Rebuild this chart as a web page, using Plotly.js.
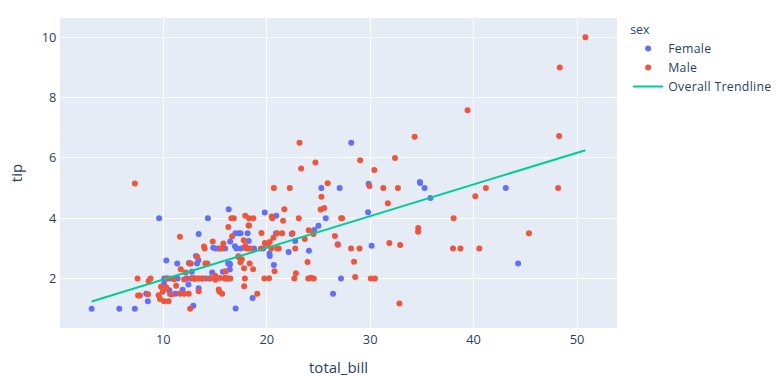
<!DOCTYPE html>
<html>
<head>
<meta charset="utf-8">
<script src="https://cdn.plot.ly/plotly-3.0.1.min.js"></script>
<style>html,body{margin:0;padding:0;background:#fff}#chart{width:776px;height:377px}
.legendtext{letter-spacing:0.3px}</style>
</head>
<body>
<div id="chart"></div>
<script>
const total_bill = [16.99,10.34,21.01,23.68,24.59,25.29,8.77,26.88,15.04,14.78,10.27,35.26,15.42,18.43,14.83,21.58,10.33,16.29,16.97,20.65,17.92,20.29,15.77,39.42,19.82,17.81,13.37,12.69,21.7,19.65,9.55,18.35,15.06,20.69,17.78,24.06,16.31,16.93,18.69,31.27,16.04,17.46,13.94,9.68,30.4,18.29,22.23,32.4,28.55,18.04,12.54,10.29,34.81,9.94,25.56,19.49,38.01,26.41,11.24,48.27,20.29,13.81,11.02,18.29,17.59,20.08,16.45,3.07,20.23,15.01,12.02,17.07,26.86,25.28,14.73,10.51,17.92,27.2,22.76,17.29,19.44,16.66,10.07,32.68,15.98,34.83,13.03,18.28,24.71,21.16,28.97,22.49,5.75,16.32,22.75,40.17,27.28,12.03,21.01,12.46,11.35,15.38,44.3,22.42,20.92,15.36,20.49,25.21,18.24,14.31,14.0,7.25,38.07,23.95,25.71,17.31,29.93,10.65,12.43,24.08,11.69,13.42,14.26,15.95,12.48,29.8,8.52,14.52,11.38,22.82,19.08,20.27,11.17,12.26,18.26,8.51,10.33,14.15,16.0,13.16,17.47,34.3,41.19,27.05,16.43,8.35,18.64,11.87,9.78,7.51,14.07,13.13,17.26,24.55,19.77,29.85,48.17,25.0,13.39,16.49,21.5,12.66,16.21,13.81,17.51,24.52,20.76,31.71,10.59,10.63,50.81,15.81,7.25,31.85,16.82,32.9,17.89,14.48,9.6,34.63,34.65,23.33,45.35,23.17,40.55,20.69,20.9,30.46,18.15,23.1,15.69,19.81,28.44,15.48,16.58,7.56,10.34,43.11,13.0,13.51,18.71,12.74,13.0,16.4,20.53,16.47,26.59,38.73,24.27,12.76,30.06,25.89,48.33,13.27,28.17,12.9,28.15,11.59,7.74,30.14,12.16,13.42,8.58,15.98,13.42,16.27,10.09,20.45,13.28,22.12,24.01,15.69,11.61,10.77,15.53,10.07,12.6,32.83,35.83,29.03,27.18,22.67,17.82,18.78];
const tip = [1.01,1.66,3.5,3.31,3.61,4.71,2.0,3.12,1.96,3.23,1.71,5.0,1.57,3.0,3.02,3.92,1.67,3.71,3.5,3.35,4.08,2.75,2.23,7.58,3.18,2.34,2.0,2.0,4.3,3.0,1.45,2.5,3.0,2.45,3.27,3.6,2.0,3.07,2.31,5.0,2.24,2.54,3.06,1.32,5.6,3.0,5.0,6.0,2.05,3.0,2.5,2.6,5.2,1.56,4.34,3.51,3.0,1.5,1.76,6.73,3.21,2.0,1.98,3.76,2.64,3.15,2.47,1.0,2.01,2.09,1.97,3.0,3.14,5.0,2.2,1.25,3.08,4.0,3.0,2.71,3.0,3.4,1.83,5.0,2.03,5.17,2.0,4.0,5.85,3.0,3.0,3.5,1.0,4.3,3.25,4.73,4.0,1.5,3.0,1.5,2.5,3.0,2.5,3.48,4.08,1.64,4.06,4.29,3.76,4.0,3.0,1.0,4.0,2.55,4.0,3.5,5.07,1.5,1.8,2.92,2.31,1.68,2.5,2.0,2.52,4.2,1.48,2.0,2.0,2.18,1.5,2.83,1.5,2.0,3.25,1.25,2.0,2.0,2.0,2.75,3.5,6.7,5.0,5.0,2.3,1.5,1.36,1.63,1.73,2.0,2.5,2.0,2.74,2.0,2.0,5.14,5.0,3.75,2.61,2.0,3.5,2.5,2.0,2.0,3.0,3.48,2.24,4.5,1.61,2.0,10.0,3.16,5.15,3.18,4.0,3.11,2.0,2.0,4.0,3.55,3.68,5.65,3.5,6.5,3.0,5.0,3.5,2.0,3.5,4.0,1.5,4.19,2.56,2.02,4.0,1.44,2.0,5.0,2.0,2.0,4.0,2.01,2.0,2.5,4.0,3.23,3.41,3.0,2.03,2.23,2.0,5.16,9.0,2.5,6.5,1.1,3.0,1.5,1.44,3.09,2.2,3.48,1.92,3.0,1.58,2.5,2.0,3.0,2.72,2.88,2.0,3.0,3.39,1.47,3.0,1.25,1.0,1.17,4.67,5.92,2.0,2.0,1.75,3.0];
const sex = ["Female","Male","Male","Male","Female","Male","Male","Male","Male","Male","Male","Female","Male","Male","Female","Male","Female","Male","Female","Male","Male","Female","Female","Male","Male","Male","Male","Male","Male","Female","Male","Male","Female","Female","Male","Male","Male","Female","Male","Male","Male","Male","Male","Male","Male","Male","Male","Male","Male","Male","Male","Female","Female","Male","Male","Male","Male","Female","Male","Male","Male","Male","Male","Male","Male","Male","Female","Female","Male","Male","Male","Female","Female","Female","Female","Male","Male","Male","Male","Male","Male","Male","Female","Male","Male","Female","Male","Male","Male","Male","Male","Male","Female","Female","Female","Male","Male","Male","Male","Male","Female","Female","Female","Female","Female","Male","Male","Male","Male","Female","Male","Female","Male","Male","Female","Female","Male","Female","Female","Female","Male","Female","Male","Male","Female","Female","Male","Female","Female","Male","Male","Female","Female","Female","Female","Female","Female","Female","Male","Female","Female","Male","Male","Female","Female","Female","Female","Female","Male","Male","Male","Male","Male","Male","Male","Female","Male","Female","Female","Male","Male","Male","Female","Male","Female","Male","Male","Male","Female","Female","Male","Male","Male","Male","Male","Male","Male","Male","Female","Male","Male","Male","Male","Male","Male","Male","Female","Male","Female","Male","Male","Female","Male","Male","Male","Male","Male","Female","Female","Male","Male","Female","Female","Female","Male","Female","Male","Male","Male","Female","Male","Male","Male","Female","Female","Female","Male","Male","Male","Female","Male","Female","Male","Female","Male","Female","Female","Male","Male","Female","Male","Male","Male","Male","Male","Male","Male","Male","Female","Male","Female","Male","Male","Female"];
const trend_x = [3.07, 50.81];
const trend_y = [1.243, 6.255];
const groups = ["Female", "Male"];
const colors = {"Female": "#636efa", "Male": "#EF553B"};

const traces = groups.map(g => {
  const xs = [], ys = [];
  for (let i = 0; i < sex.length; i++) if (sex[i] === g) { xs.push(total_bill[i]); ys.push(tip[i]); }
  return {type: "scatter", mode: "markers", name: g, x: xs, y: ys,
          marker: {color: colors[g], size: 6}, legendgroup: g, showlegend: true};
});
traces.push({type: "scatter", mode: "lines", name: "Overall Trendline", x: trend_x, y: trend_y,
             line: {color: "#00cc96", width: 2}});

const layout = {
  width: 776, height: 377,
  margin: {l: 60, r: 159, t: 18, b: 49, pad: 0, autoexpand: false},
  paper_bgcolor: "#ffffff", plot_bgcolor: "#E5ECF6",
  font: {family: '"Open Sans", verdana, arial, sans-serif', size: 12.8, color: "#2a3f5f"},
  xaxis: {title: {text: "total_bill", standoff: 15}, gridcolor: "white", zerolinecolor: "white",
          zerolinewidth: 2, linecolor: "white", ticks: "", automargin: false},
  yaxis: {title: {text: "tip", standoff: 15}, gridcolor: "white", zerolinecolor: "white",
          zerolinewidth: 2, linecolor: "white", ticks: "", automargin: false},
  legend: {title: {text: "sex", font: {size: 12.3}}, font: {size: 12.3}, tracegroupgap: 0,
           x: 1.02, y: 1.0, xanchor: "left", yanchor: "top"},
  showlegend: true
};
Plotly.newPlot("chart", traces, layout, {displayModeBar: false, staticPlot: true});
</script>
</body>
</html>
